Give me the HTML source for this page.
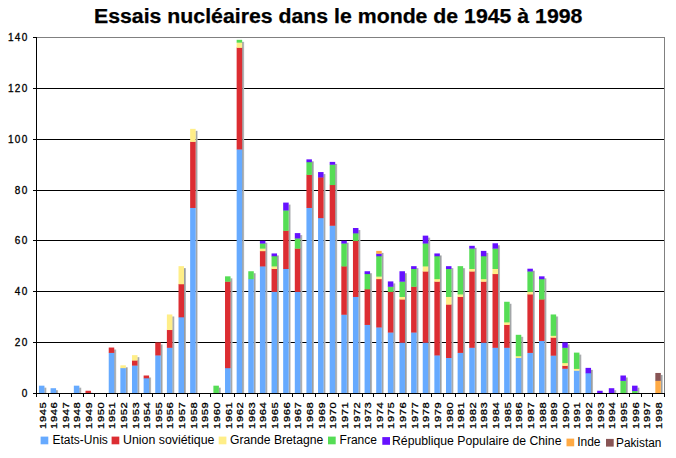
<!DOCTYPE html>
<html><head><meta charset="utf-8"><title>Essais nucléaires</title>
<style>
html,body{margin:0;padding:0;background:#fff;}
body{width:676px;height:458px;position:relative;overflow:hidden;font-family:"Liberation Sans",sans-serif;color:#000;}
.title{position:absolute;left:94px;top:4px;font-weight:bold;font-size:19.5px;line-height:24px;white-space:nowrap;-webkit-text-stroke:0.25px #000;transform-origin:0 0;transform:scaleX(1.091);}
.yl{position:absolute;right:647.5px;width:40px;text-align:right;font-size:10px;line-height:12px;-webkit-text-stroke:0.3px #000;letter-spacing:1.3px;}
.xl{position:absolute;top:402px;height:12px;width:27px;font-size:10px;line-height:12px;-webkit-text-stroke:0.3px #000;letter-spacing:0.5px;white-space:nowrap;transform-origin:0 0;transform:rotate(-90deg) scale(1.12,0.95);text-align:left;}
.lg{position:absolute;font-size:12px;line-height:14px;white-space:nowrap;}
.sq{position:absolute;width:7.7px;height:7.7px;}
</style></head><body>

<svg width="676" height="458" viewBox="0 0 676 458" style="position:absolute;left:0;top:0" shape-rendering="crispEdges">
<defs><linearGradient id="sh" x1="0" x2="1" y1="0" y2="0"><stop offset="0" stop-color="#8a8e90"/><stop offset="1" stop-color="#c4c6c8"/></linearGradient></defs>
<rect x="37" y="342" width="627" height="1" fill="#000"/>
<rect x="37" y="291" width="627" height="1" fill="#000"/>
<rect x="37" y="240" width="627" height="1" fill="#000"/>
<rect x="37" y="190" width="627" height="1" fill="#000"/>
<rect x="37" y="139" width="627" height="1" fill="#000"/>
<rect x="37" y="88" width="627" height="1" fill="#000"/>
<rect x="37" y="37" width="628" height="1" fill="#808080"/>
<rect x="664" y="37" width="1" height="357" fill="#808080"/>
<g shape-rendering="auto">
<rect x="44.45" y="387.67" width="2" height="5.33" fill="url(#sh)"/>
<rect x="38.95" y="385.67" width="5.50" height="7.63" fill="#66aaff"/>
<rect x="56.08" y="390.21" width="2" height="2.79" fill="url(#sh)"/>
<rect x="50.58" y="388.21" width="5.50" height="5.09" fill="#66aaff"/>
<rect x="79.34" y="387.67" width="2" height="5.33" fill="url(#sh)"/>
<rect x="73.84" y="385.67" width="5.50" height="7.63" fill="#66aaff"/>
<rect x="90.97" y="392.76" width="2" height="0.24" fill="url(#sh)"/>
<rect x="85.47" y="390.76" width="5.50" height="2.54" fill="#dc2d32"/>
<rect x="114.23" y="349.53" width="2" height="43.47" fill="url(#sh)"/>
<rect x="108.73" y="352.61" width="5.50" height="40.69" fill="#66aaff"/>
<rect x="108.73" y="347.53" width="5.50" height="5.39" fill="#dc2d32"/>
<rect x="125.86" y="367.33" width="2" height="25.67" fill="url(#sh)"/>
<rect x="120.36" y="367.87" width="5.50" height="25.43" fill="#66aaff"/>
<rect x="120.36" y="365.33" width="5.50" height="2.84" fill="#ffee88"/>
<rect x="137.49" y="357.16" width="2" height="35.84" fill="url(#sh)"/>
<rect x="131.99" y="365.33" width="5.50" height="27.97" fill="#66aaff"/>
<rect x="131.99" y="360.24" width="5.50" height="5.39" fill="#dc2d32"/>
<rect x="131.99" y="355.16" width="5.50" height="5.39" fill="#ffee88"/>
<rect x="149.12" y="377.50" width="2" height="15.50" fill="url(#sh)"/>
<rect x="143.62" y="378.04" width="5.50" height="15.26" fill="#66aaff"/>
<rect x="143.62" y="375.50" width="5.50" height="2.84" fill="#dc2d32"/>
<rect x="160.75" y="344.44" width="2" height="48.56" fill="url(#sh)"/>
<rect x="155.25" y="355.16" width="5.50" height="38.14" fill="#66aaff"/>
<rect x="155.25" y="342.44" width="5.50" height="13.01" fill="#dc2d32"/>
<rect x="172.38" y="316.47" width="2" height="76.53" fill="url(#sh)"/>
<rect x="166.88" y="347.53" width="5.50" height="45.77" fill="#66aaff"/>
<rect x="166.88" y="329.73" width="5.50" height="18.10" fill="#dc2d32"/>
<rect x="166.88" y="314.47" width="5.50" height="15.56" fill="#ffee88"/>
<rect x="184.01" y="268.16" width="2" height="124.84" fill="url(#sh)"/>
<rect x="178.51" y="317.01" width="5.50" height="76.29" fill="#66aaff"/>
<rect x="178.51" y="283.96" width="5.50" height="33.36" fill="#dc2d32"/>
<rect x="178.51" y="266.16" width="5.50" height="18.10" fill="#ffee88"/>
<rect x="195.64" y="130.84" width="2" height="262.16" fill="url(#sh)"/>
<rect x="190.14" y="207.67" width="5.50" height="185.63" fill="#66aaff"/>
<rect x="190.14" y="141.56" width="5.50" height="66.41" fill="#dc2d32"/>
<rect x="190.14" y="128.84" width="5.50" height="13.01" fill="#ffee88"/>
<rect x="218.89" y="387.67" width="2" height="5.33" fill="url(#sh)"/>
<rect x="213.39" y="385.67" width="5.50" height="7.63" fill="#55dd55"/>
<rect x="230.52" y="278.33" width="2" height="114.67" fill="url(#sh)"/>
<rect x="225.02" y="367.87" width="5.50" height="25.43" fill="#66aaff"/>
<rect x="225.02" y="281.41" width="5.50" height="86.76" fill="#dc2d32"/>
<rect x="225.02" y="276.33" width="5.50" height="5.39" fill="#55dd55"/>
<rect x="242.15" y="41.84" width="2" height="351.16" fill="url(#sh)"/>
<rect x="236.65" y="149.19" width="5.50" height="244.11" fill="#66aaff"/>
<rect x="236.65" y="47.47" width="5.50" height="102.01" fill="#dc2d32"/>
<rect x="236.65" y="42.39" width="5.50" height="5.39" fill="#ffee88"/>
<rect x="236.65" y="39.84" width="5.50" height="2.84" fill="#55dd55"/>
<rect x="253.78" y="273.24" width="2" height="119.76" fill="url(#sh)"/>
<rect x="248.28" y="278.87" width="5.50" height="114.43" fill="#66aaff"/>
<rect x="248.28" y="271.24" width="5.50" height="7.93" fill="#55dd55"/>
<rect x="265.41" y="242.73" width="2" height="150.27" fill="url(#sh)"/>
<rect x="259.91" y="266.16" width="5.50" height="127.14" fill="#66aaff"/>
<rect x="259.91" y="250.90" width="5.50" height="15.56" fill="#dc2d32"/>
<rect x="259.91" y="248.36" width="5.50" height="2.84" fill="#ffee88"/>
<rect x="259.91" y="243.27" width="5.50" height="5.39" fill="#55dd55"/>
<rect x="259.91" y="240.73" width="5.50" height="2.84" fill="#6611ff"/>
<rect x="277.04" y="255.44" width="2" height="137.56" fill="url(#sh)"/>
<rect x="271.54" y="291.59" width="5.50" height="101.71" fill="#66aaff"/>
<rect x="271.54" y="268.70" width="5.50" height="23.19" fill="#dc2d32"/>
<rect x="271.54" y="266.16" width="5.50" height="2.84" fill="#ffee88"/>
<rect x="271.54" y="255.99" width="5.50" height="10.47" fill="#55dd55"/>
<rect x="271.54" y="253.44" width="5.50" height="2.84" fill="#6611ff"/>
<rect x="288.67" y="204.59" width="2" height="188.41" fill="url(#sh)"/>
<rect x="283.17" y="268.70" width="5.50" height="124.60" fill="#66aaff"/>
<rect x="283.17" y="230.56" width="5.50" height="38.44" fill="#dc2d32"/>
<rect x="283.17" y="210.21" width="5.50" height="20.64" fill="#55dd55"/>
<rect x="283.17" y="202.59" width="5.50" height="7.93" fill="#6611ff"/>
<rect x="300.30" y="235.10" width="2" height="157.90" fill="url(#sh)"/>
<rect x="294.80" y="291.59" width="5.50" height="101.71" fill="#66aaff"/>
<rect x="294.80" y="248.36" width="5.50" height="43.53" fill="#dc2d32"/>
<rect x="294.80" y="238.19" width="5.50" height="10.47" fill="#55dd55"/>
<rect x="294.80" y="233.10" width="5.50" height="5.39" fill="#6611ff"/>
<rect x="311.93" y="161.36" width="2" height="231.64" fill="url(#sh)"/>
<rect x="306.43" y="207.67" width="5.50" height="185.63" fill="#66aaff"/>
<rect x="306.43" y="174.61" width="5.50" height="33.36" fill="#dc2d32"/>
<rect x="306.43" y="161.90" width="5.50" height="13.01" fill="#55dd55"/>
<rect x="306.43" y="159.36" width="5.50" height="2.84" fill="#6611ff"/>
<rect x="323.56" y="174.07" width="2" height="218.93" fill="url(#sh)"/>
<rect x="318.06" y="217.84" width="5.50" height="175.46" fill="#66aaff"/>
<rect x="318.06" y="177.16" width="5.50" height="40.99" fill="#dc2d32"/>
<rect x="318.06" y="172.07" width="5.50" height="5.39" fill="#6611ff"/>
<rect x="335.19" y="163.90" width="2" height="229.10" fill="url(#sh)"/>
<rect x="329.69" y="225.47" width="5.50" height="167.83" fill="#66aaff"/>
<rect x="329.69" y="184.79" width="5.50" height="40.99" fill="#dc2d32"/>
<rect x="329.69" y="164.44" width="5.50" height="20.64" fill="#55dd55"/>
<rect x="329.69" y="161.90" width="5.50" height="2.84" fill="#6611ff"/>
<rect x="346.82" y="242.73" width="2" height="150.27" fill="url(#sh)"/>
<rect x="341.32" y="314.47" width="5.50" height="78.83" fill="#66aaff"/>
<rect x="341.32" y="266.16" width="5.50" height="48.61" fill="#dc2d32"/>
<rect x="341.32" y="243.27" width="5.50" height="23.19" fill="#55dd55"/>
<rect x="341.32" y="240.73" width="5.50" height="2.84" fill="#6611ff"/>
<rect x="358.45" y="230.01" width="2" height="162.99" fill="url(#sh)"/>
<rect x="352.95" y="296.67" width="5.50" height="96.63" fill="#66aaff"/>
<rect x="352.95" y="240.73" width="5.50" height="56.24" fill="#dc2d32"/>
<rect x="352.95" y="233.10" width="5.50" height="7.93" fill="#55dd55"/>
<rect x="352.95" y="228.01" width="5.50" height="5.39" fill="#6611ff"/>
<rect x="370.08" y="273.24" width="2" height="119.76" fill="url(#sh)"/>
<rect x="364.58" y="324.64" width="5.50" height="68.66" fill="#66aaff"/>
<rect x="364.58" y="289.04" width="5.50" height="35.90" fill="#dc2d32"/>
<rect x="364.58" y="273.79" width="5.50" height="15.56" fill="#55dd55"/>
<rect x="364.58" y="271.24" width="5.50" height="2.84" fill="#6611ff"/>
<rect x="381.71" y="252.90" width="2" height="140.10" fill="url(#sh)"/>
<rect x="376.21" y="327.19" width="5.50" height="66.11" fill="#66aaff"/>
<rect x="376.21" y="278.87" width="5.50" height="48.61" fill="#dc2d32"/>
<rect x="376.21" y="276.33" width="5.50" height="2.84" fill="#ffee88"/>
<rect x="376.21" y="255.99" width="5.50" height="20.64" fill="#55dd55"/>
<rect x="376.21" y="253.44" width="5.50" height="2.84" fill="#6611ff"/>
<rect x="376.21" y="250.90" width="5.50" height="2.84" fill="#ffaa44"/>
<rect x="393.34" y="283.41" width="2" height="109.59" fill="url(#sh)"/>
<rect x="387.84" y="332.27" width="5.50" height="61.03" fill="#66aaff"/>
<rect x="387.84" y="291.59" width="5.50" height="40.99" fill="#dc2d32"/>
<rect x="387.84" y="286.50" width="5.50" height="5.39" fill="#55dd55"/>
<rect x="387.84" y="281.41" width="5.50" height="5.39" fill="#6611ff"/>
<rect x="404.97" y="273.24" width="2" height="119.76" fill="url(#sh)"/>
<rect x="399.47" y="342.44" width="5.50" height="50.86" fill="#66aaff"/>
<rect x="399.47" y="299.21" width="5.50" height="43.53" fill="#dc2d32"/>
<rect x="399.47" y="296.67" width="5.50" height="2.84" fill="#ffee88"/>
<rect x="399.47" y="281.41" width="5.50" height="15.56" fill="#55dd55"/>
<rect x="399.47" y="271.24" width="5.50" height="10.47" fill="#6611ff"/>
<rect x="416.60" y="268.16" width="2" height="124.84" fill="url(#sh)"/>
<rect x="411.10" y="332.27" width="5.50" height="61.03" fill="#66aaff"/>
<rect x="411.10" y="286.50" width="5.50" height="46.07" fill="#dc2d32"/>
<rect x="411.10" y="268.70" width="5.50" height="18.10" fill="#55dd55"/>
<rect x="411.10" y="266.16" width="5.50" height="2.84" fill="#6611ff"/>
<rect x="428.23" y="237.64" width="2" height="155.36" fill="url(#sh)"/>
<rect x="422.73" y="342.44" width="5.50" height="50.86" fill="#66aaff"/>
<rect x="422.73" y="271.24" width="5.50" height="71.50" fill="#dc2d32"/>
<rect x="422.73" y="266.16" width="5.50" height="5.39" fill="#ffee88"/>
<rect x="422.73" y="243.27" width="5.50" height="23.19" fill="#55dd55"/>
<rect x="422.73" y="235.64" width="5.50" height="7.93" fill="#6611ff"/>
<rect x="439.86" y="255.44" width="2" height="137.56" fill="url(#sh)"/>
<rect x="434.36" y="355.16" width="5.50" height="38.14" fill="#66aaff"/>
<rect x="434.36" y="281.41" width="5.50" height="74.04" fill="#dc2d32"/>
<rect x="434.36" y="278.87" width="5.50" height="2.84" fill="#ffee88"/>
<rect x="434.36" y="255.99" width="5.50" height="23.19" fill="#55dd55"/>
<rect x="434.36" y="253.44" width="5.50" height="2.84" fill="#6611ff"/>
<rect x="451.49" y="268.16" width="2" height="124.84" fill="url(#sh)"/>
<rect x="445.99" y="357.70" width="5.50" height="35.60" fill="#66aaff"/>
<rect x="445.99" y="304.30" width="5.50" height="53.70" fill="#dc2d32"/>
<rect x="445.99" y="296.67" width="5.50" height="7.93" fill="#ffee88"/>
<rect x="445.99" y="268.70" width="5.50" height="28.27" fill="#55dd55"/>
<rect x="445.99" y="266.16" width="5.50" height="2.84" fill="#6611ff"/>
<rect x="463.12" y="268.16" width="2" height="124.84" fill="url(#sh)"/>
<rect x="457.62" y="352.61" width="5.50" height="40.69" fill="#66aaff"/>
<rect x="457.62" y="296.67" width="5.50" height="56.24" fill="#dc2d32"/>
<rect x="457.62" y="294.13" width="5.50" height="2.84" fill="#ffee88"/>
<rect x="457.62" y="266.16" width="5.50" height="28.27" fill="#55dd55"/>
<rect x="474.75" y="247.81" width="2" height="145.19" fill="url(#sh)"/>
<rect x="469.25" y="347.53" width="5.50" height="45.77" fill="#66aaff"/>
<rect x="469.25" y="271.24" width="5.50" height="76.59" fill="#dc2d32"/>
<rect x="469.25" y="268.70" width="5.50" height="2.84" fill="#ffee88"/>
<rect x="469.25" y="248.36" width="5.50" height="20.64" fill="#55dd55"/>
<rect x="469.25" y="245.81" width="5.50" height="2.84" fill="#6611ff"/>
<rect x="486.38" y="252.90" width="2" height="140.10" fill="url(#sh)"/>
<rect x="480.88" y="342.44" width="5.50" height="50.86" fill="#66aaff"/>
<rect x="480.88" y="281.41" width="5.50" height="61.33" fill="#dc2d32"/>
<rect x="480.88" y="278.87" width="5.50" height="2.84" fill="#ffee88"/>
<rect x="480.88" y="255.99" width="5.50" height="23.19" fill="#55dd55"/>
<rect x="480.88" y="250.90" width="5.50" height="5.39" fill="#6611ff"/>
<rect x="498.01" y="245.27" width="2" height="147.73" fill="url(#sh)"/>
<rect x="492.51" y="347.53" width="5.50" height="45.77" fill="#66aaff"/>
<rect x="492.51" y="273.79" width="5.50" height="74.04" fill="#dc2d32"/>
<rect x="492.51" y="268.70" width="5.50" height="5.39" fill="#ffee88"/>
<rect x="492.51" y="248.36" width="5.50" height="20.64" fill="#55dd55"/>
<rect x="492.51" y="243.27" width="5.50" height="5.39" fill="#6611ff"/>
<rect x="509.64" y="303.76" width="2" height="89.24" fill="url(#sh)"/>
<rect x="504.14" y="347.53" width="5.50" height="45.77" fill="#66aaff"/>
<rect x="504.14" y="324.64" width="5.50" height="23.19" fill="#dc2d32"/>
<rect x="504.14" y="322.10" width="5.50" height="2.84" fill="#ffee88"/>
<rect x="504.14" y="301.76" width="5.50" height="20.64" fill="#55dd55"/>
<rect x="521.26" y="336.81" width="2" height="56.19" fill="url(#sh)"/>
<rect x="515.76" y="357.70" width="5.50" height="35.60" fill="#66aaff"/>
<rect x="515.76" y="355.92" width="5.50" height="2.08" fill="#ffee88"/>
<rect x="515.76" y="334.81" width="5.50" height="21.41" fill="#55dd55"/>
<rect x="532.89" y="270.70" width="2" height="122.30" fill="url(#sh)"/>
<rect x="527.39" y="352.61" width="5.50" height="40.69" fill="#66aaff"/>
<rect x="527.39" y="294.13" width="5.50" height="58.79" fill="#dc2d32"/>
<rect x="527.39" y="291.59" width="5.50" height="2.84" fill="#ffee88"/>
<rect x="527.39" y="271.24" width="5.50" height="20.64" fill="#55dd55"/>
<rect x="527.39" y="268.70" width="5.50" height="2.84" fill="#6611ff"/>
<rect x="544.52" y="278.33" width="2" height="114.67" fill="url(#sh)"/>
<rect x="539.02" y="340.66" width="5.50" height="52.64" fill="#66aaff"/>
<rect x="539.02" y="299.21" width="5.50" height="41.75" fill="#dc2d32"/>
<rect x="539.02" y="278.87" width="5.50" height="20.64" fill="#55dd55"/>
<rect x="539.02" y="276.33" width="5.50" height="2.84" fill="#6611ff"/>
<rect x="556.15" y="316.47" width="2" height="76.53" fill="url(#sh)"/>
<rect x="550.65" y="355.41" width="5.50" height="37.89" fill="#66aaff"/>
<rect x="550.65" y="337.36" width="5.50" height="18.35" fill="#dc2d32"/>
<rect x="550.65" y="335.58" width="5.50" height="2.08" fill="#ffee88"/>
<rect x="550.65" y="314.47" width="5.50" height="21.41" fill="#55dd55"/>
<rect x="567.78" y="344.44" width="2" height="48.56" fill="url(#sh)"/>
<rect x="562.28" y="368.51" width="5.50" height="24.79" fill="#66aaff"/>
<rect x="562.28" y="365.58" width="5.50" height="3.22" fill="#dc2d32"/>
<rect x="562.28" y="362.79" width="5.50" height="3.10" fill="#ffee88"/>
<rect x="562.28" y="347.53" width="5.50" height="15.56" fill="#55dd55"/>
<rect x="562.28" y="342.44" width="5.50" height="5.39" fill="#6611ff"/>
<rect x="579.41" y="354.61" width="2" height="38.39" fill="url(#sh)"/>
<rect x="573.91" y="370.41" width="5.50" height="22.89" fill="#66aaff"/>
<rect x="573.91" y="368.63" width="5.50" height="2.08" fill="#ffee88"/>
<rect x="573.91" y="352.61" width="5.50" height="16.32" fill="#55dd55"/>
<rect x="591.04" y="369.87" width="2" height="23.13" fill="url(#sh)"/>
<rect x="585.54" y="372.96" width="5.50" height="20.34" fill="#66aaff"/>
<rect x="585.54" y="367.87" width="5.50" height="5.39" fill="#6611ff"/>
<rect x="602.67" y="392.76" width="2" height="0.24" fill="url(#sh)"/>
<rect x="597.17" y="390.76" width="5.50" height="2.54" fill="#6611ff"/>
<rect x="614.30" y="390.21" width="2" height="2.79" fill="url(#sh)"/>
<rect x="608.80" y="388.21" width="5.50" height="5.09" fill="#6611ff"/>
<rect x="625.93" y="377.50" width="2" height="15.50" fill="url(#sh)"/>
<rect x="620.43" y="380.59" width="5.50" height="12.71" fill="#55dd55"/>
<rect x="620.43" y="375.50" width="5.50" height="5.39" fill="#6611ff"/>
<rect x="637.56" y="387.67" width="2" height="5.33" fill="url(#sh)"/>
<rect x="632.06" y="390.76" width="5.50" height="2.54" fill="#55dd55"/>
<rect x="632.06" y="385.67" width="5.50" height="5.39" fill="#6611ff"/>
<rect x="660.82" y="374.96" width="2" height="18.04" fill="url(#sh)"/>
<rect x="655.32" y="380.59" width="5.50" height="12.71" fill="#ffaa44"/>
<rect x="655.32" y="372.96" width="5.50" height="7.93" fill="#885555"/>
</g>
<rect x="36" y="37" width="1" height="357" fill="#000"/>
<rect x="33" y="393" width="632" height="1" fill="#000"/>
<rect x="33" y="393" width="4" height="1" fill="#000"/>
<rect x="33" y="342" width="4" height="1" fill="#000"/>
<rect x="33" y="291" width="4" height="1" fill="#000"/>
<rect x="33" y="240" width="4" height="1" fill="#000"/>
<rect x="33" y="190" width="4" height="1" fill="#000"/>
<rect x="33" y="139" width="4" height="1" fill="#000"/>
<rect x="33" y="88" width="4" height="1" fill="#000"/>
<rect x="33" y="37" width="4" height="1" fill="#000"/>
<rect x="36" y="393" width="1" height="4" fill="#000"/>
<rect x="48" y="393" width="1" height="4" fill="#000"/>
<rect x="59" y="393" width="1" height="4" fill="#000"/>
<rect x="71" y="393" width="1" height="4" fill="#000"/>
<rect x="83" y="393" width="1" height="4" fill="#000"/>
<rect x="94" y="393" width="1" height="4" fill="#000"/>
<rect x="106" y="393" width="1" height="4" fill="#000"/>
<rect x="117" y="393" width="1" height="4" fill="#000"/>
<rect x="129" y="393" width="1" height="4" fill="#000"/>
<rect x="141" y="393" width="1" height="4" fill="#000"/>
<rect x="152" y="393" width="1" height="4" fill="#000"/>
<rect x="164" y="393" width="1" height="4" fill="#000"/>
<rect x="176" y="393" width="1" height="4" fill="#000"/>
<rect x="187" y="393" width="1" height="4" fill="#000"/>
<rect x="199" y="393" width="1" height="4" fill="#000"/>
<rect x="210" y="393" width="1" height="4" fill="#000"/>
<rect x="222" y="393" width="1" height="4" fill="#000"/>
<rect x="234" y="393" width="1" height="4" fill="#000"/>
<rect x="245" y="393" width="1" height="4" fill="#000"/>
<rect x="257" y="393" width="1" height="4" fill="#000"/>
<rect x="269" y="393" width="1" height="4" fill="#000"/>
<rect x="280" y="393" width="1" height="4" fill="#000"/>
<rect x="292" y="393" width="1" height="4" fill="#000"/>
<rect x="303" y="393" width="1" height="4" fill="#000"/>
<rect x="315" y="393" width="1" height="4" fill="#000"/>
<rect x="327" y="393" width="1" height="4" fill="#000"/>
<rect x="338" y="393" width="1" height="4" fill="#000"/>
<rect x="350" y="393" width="1" height="4" fill="#000"/>
<rect x="362" y="393" width="1" height="4" fill="#000"/>
<rect x="373" y="393" width="1" height="4" fill="#000"/>
<rect x="385" y="393" width="1" height="4" fill="#000"/>
<rect x="397" y="393" width="1" height="4" fill="#000"/>
<rect x="408" y="393" width="1" height="4" fill="#000"/>
<rect x="420" y="393" width="1" height="4" fill="#000"/>
<rect x="431" y="393" width="1" height="4" fill="#000"/>
<rect x="443" y="393" width="1" height="4" fill="#000"/>
<rect x="455" y="393" width="1" height="4" fill="#000"/>
<rect x="466" y="393" width="1" height="4" fill="#000"/>
<rect x="478" y="393" width="1" height="4" fill="#000"/>
<rect x="490" y="393" width="1" height="4" fill="#000"/>
<rect x="501" y="393" width="1" height="4" fill="#000"/>
<rect x="513" y="393" width="1" height="4" fill="#000"/>
<rect x="524" y="393" width="1" height="4" fill="#000"/>
<rect x="536" y="393" width="1" height="4" fill="#000"/>
<rect x="548" y="393" width="1" height="4" fill="#000"/>
<rect x="559" y="393" width="1" height="4" fill="#000"/>
<rect x="571" y="393" width="1" height="4" fill="#000"/>
<rect x="583" y="393" width="1" height="4" fill="#000"/>
<rect x="594" y="393" width="1" height="4" fill="#000"/>
<rect x="606" y="393" width="1" height="4" fill="#000"/>
<rect x="617" y="393" width="1" height="4" fill="#000"/>
<rect x="629" y="393" width="1" height="4" fill="#000"/>
<rect x="641" y="393" width="1" height="4" fill="#000"/>
<rect x="652" y="393" width="1" height="4" fill="#000"/>
<rect x="664" y="393" width="1" height="4" fill="#000"/>
</svg>
<div class="title">Essais nucléaires dans le monde de 1945 à 1998</div>
<div class="yl" style="top:387.7px">0</div>
<div class="yl" style="top:336.7px">20</div>
<div class="yl" style="top:285.7px">40</div>
<div class="yl" style="top:234.7px">60</div>
<div class="yl" style="top:184.7px">80</div>
<div class="yl" style="top:133.7px">100</div>
<div class="yl" style="top:82.7px">120</div>
<div class="yl" style="top:31.7px">140</div>
<svg style="position:absolute;left:0;top:0" width="676" height="458" viewBox="0 0 676 458"><g font-family="Liberation Sans, sans-serif" font-size="10" fill="#000" stroke="#000" stroke-width="0.3" letter-spacing="0.5"><text transform="translate(45.51,428.9) rotate(-90) scale(1.12,0.97)" x="0" y="0">1945</text><text transform="translate(57.14,428.9) rotate(-90) scale(1.12,0.97)" x="0" y="0">1946</text><text transform="translate(68.77,428.9) rotate(-90) scale(1.12,0.97)" x="0" y="0">1947</text><text transform="translate(80.40,428.9) rotate(-90) scale(1.12,0.97)" x="0" y="0">1948</text><text transform="translate(92.03,428.9) rotate(-90) scale(1.12,0.97)" x="0" y="0">1949</text><text transform="translate(103.66,428.9) rotate(-90) scale(1.12,0.97)" x="0" y="0">1950</text><text transform="translate(115.29,428.9) rotate(-90) scale(1.12,0.97)" x="0" y="0">1951</text><text transform="translate(126.92,428.9) rotate(-90) scale(1.12,0.97)" x="0" y="0">1952</text><text transform="translate(138.55,428.9) rotate(-90) scale(1.12,0.97)" x="0" y="0">1953</text><text transform="translate(150.18,428.9) rotate(-90) scale(1.12,0.97)" x="0" y="0">1954</text><text transform="translate(161.81,428.9) rotate(-90) scale(1.12,0.97)" x="0" y="0">1955</text><text transform="translate(173.44,428.9) rotate(-90) scale(1.12,0.97)" x="0" y="0">1956</text><text transform="translate(185.07,428.9) rotate(-90) scale(1.12,0.97)" x="0" y="0">1957</text><text transform="translate(196.70,428.9) rotate(-90) scale(1.12,0.97)" x="0" y="0">1958</text><text transform="translate(208.33,428.9) rotate(-90) scale(1.12,0.97)" x="0" y="0">1959</text><text transform="translate(219.96,428.9) rotate(-90) scale(1.12,0.97)" x="0" y="0">1960</text><text transform="translate(231.59,428.9) rotate(-90) scale(1.12,0.97)" x="0" y="0">1961</text><text transform="translate(243.22,428.9) rotate(-90) scale(1.12,0.97)" x="0" y="0">1962</text><text transform="translate(254.85,428.9) rotate(-90) scale(1.12,0.97)" x="0" y="0">1963</text><text transform="translate(266.48,428.9) rotate(-90) scale(1.12,0.97)" x="0" y="0">1964</text><text transform="translate(278.11,428.9) rotate(-90) scale(1.12,0.97)" x="0" y="0">1965</text><text transform="translate(289.74,428.9) rotate(-90) scale(1.12,0.97)" x="0" y="0">1966</text><text transform="translate(301.37,428.9) rotate(-90) scale(1.12,0.97)" x="0" y="0">1967</text><text transform="translate(313.00,428.9) rotate(-90) scale(1.12,0.97)" x="0" y="0">1968</text><text transform="translate(324.63,428.9) rotate(-90) scale(1.12,0.97)" x="0" y="0">1969</text><text transform="translate(336.26,428.9) rotate(-90) scale(1.12,0.97)" x="0" y="0">1970</text><text transform="translate(347.89,428.9) rotate(-90) scale(1.12,0.97)" x="0" y="0">1971</text><text transform="translate(359.51,428.9) rotate(-90) scale(1.12,0.97)" x="0" y="0">1972</text><text transform="translate(371.14,428.9) rotate(-90) scale(1.12,0.97)" x="0" y="0">1973</text><text transform="translate(382.77,428.9) rotate(-90) scale(1.12,0.97)" x="0" y="0">1974</text><text transform="translate(394.40,428.9) rotate(-90) scale(1.12,0.97)" x="0" y="0">1975</text><text transform="translate(406.03,428.9) rotate(-90) scale(1.12,0.97)" x="0" y="0">1976</text><text transform="translate(417.66,428.9) rotate(-90) scale(1.12,0.97)" x="0" y="0">1977</text><text transform="translate(429.29,428.9) rotate(-90) scale(1.12,0.97)" x="0" y="0">1978</text><text transform="translate(440.92,428.9) rotate(-90) scale(1.12,0.97)" x="0" y="0">1979</text><text transform="translate(452.55,428.9) rotate(-90) scale(1.12,0.97)" x="0" y="0">1980</text><text transform="translate(464.18,428.9) rotate(-90) scale(1.12,0.97)" x="0" y="0">1981</text><text transform="translate(475.81,428.9) rotate(-90) scale(1.12,0.97)" x="0" y="0">1982</text><text transform="translate(487.44,428.9) rotate(-90) scale(1.12,0.97)" x="0" y="0">1983</text><text transform="translate(499.07,428.9) rotate(-90) scale(1.12,0.97)" x="0" y="0">1984</text><text transform="translate(510.70,428.9) rotate(-90) scale(1.12,0.97)" x="0" y="0">1985</text><text transform="translate(522.33,428.9) rotate(-90) scale(1.12,0.97)" x="0" y="0">1986</text><text transform="translate(533.96,428.9) rotate(-90) scale(1.12,0.97)" x="0" y="0">1987</text><text transform="translate(545.59,428.9) rotate(-90) scale(1.12,0.97)" x="0" y="0">1988</text><text transform="translate(557.22,428.9) rotate(-90) scale(1.12,0.97)" x="0" y="0">1989</text><text transform="translate(568.85,428.9) rotate(-90) scale(1.12,0.97)" x="0" y="0">1990</text><text transform="translate(580.48,428.9) rotate(-90) scale(1.12,0.97)" x="0" y="0">1991</text><text transform="translate(592.11,428.9) rotate(-90) scale(1.12,0.97)" x="0" y="0">1992</text><text transform="translate(603.74,428.9) rotate(-90) scale(1.12,0.97)" x="0" y="0">1993</text><text transform="translate(615.37,428.9) rotate(-90) scale(1.12,0.97)" x="0" y="0">1994</text><text transform="translate(627.00,428.9) rotate(-90) scale(1.12,0.97)" x="0" y="0">1995</text><text transform="translate(638.63,428.9) rotate(-90) scale(1.12,0.97)" x="0" y="0">1996</text><text transform="translate(650.26,428.9) rotate(-90) scale(1.12,0.97)" x="0" y="0">1997</text><text transform="translate(661.89,428.9) rotate(-90) scale(1.12,0.97)" x="0" y="0">1998</text></g></svg>
<svg style="position:absolute;left:0;top:420px" width="676" height="38" viewBox="0 420 676 38"><rect x="40.60" y="436.60" width="7.7" height="7.7" fill="#66aaff"/></svg>
<div class="lg" style="left:52.5px;top:432.5px;transform-origin:0 0;transform:scaleX(1.0)">Etats-Unis</div>
<svg style="position:absolute;left:0;top:420px" width="676" height="38" viewBox="0 420 676 38"><rect x="111.60" y="436.60" width="7.7" height="7.7" fill="#dc2d32"/></svg>
<div class="lg" style="left:122.5px;top:432.5px;transform-origin:0 0;transform:scaleX(1.03)">Union soviétique</div>
<svg style="position:absolute;left:0;top:420px" width="676" height="38" viewBox="0 420 676 38"><rect x="218.70" y="436.60" width="7.7" height="7.7" fill="#ffee88"/></svg>
<div class="lg" style="left:229.5px;top:432.5px;transform-origin:0 0;transform:scaleX(1.013)">Grande Bretagne</div>
<svg style="position:absolute;left:0;top:420px" width="676" height="38" viewBox="0 420 676 38"><rect x="328.00" y="436.60" width="7.7" height="7.7" fill="#55dd55"/></svg>
<div class="lg" style="left:339.6px;top:432.5px;transform-origin:0 0;transform:scaleX(1.0)">France</div>
<svg style="position:absolute;left:0;top:420px" width="676" height="38" viewBox="0 420 676 38"><rect x="382.30" y="437.10" width="7.7" height="7.7" fill="#6611ff"/></svg>
<div class="lg" style="left:392.3px;top:433.5px;transform-origin:0 0;transform:scaleX(1.02)">République Populaire de Chine</div>
<svg style="position:absolute;left:0;top:420px" width="676" height="38" viewBox="0 420 676 38"><rect x="566.50" y="438.60" width="7.7" height="7.7" fill="#ffaa44"/></svg>
<div class="lg" style="left:577.2px;top:434.5px;transform-origin:0 0;transform:scaleX(1.0)">Inde</div>
<svg style="position:absolute;left:0;top:420px" width="676" height="38" viewBox="0 420 676 38"><rect x="606.00" y="438.90" width="7.7" height="7.7" fill="#885555"/></svg>
<div class="lg" style="left:616.2px;top:435.5px;transform-origin:0 0;transform:scaleX(0.985)">Pakistan</div>
</body></html>
